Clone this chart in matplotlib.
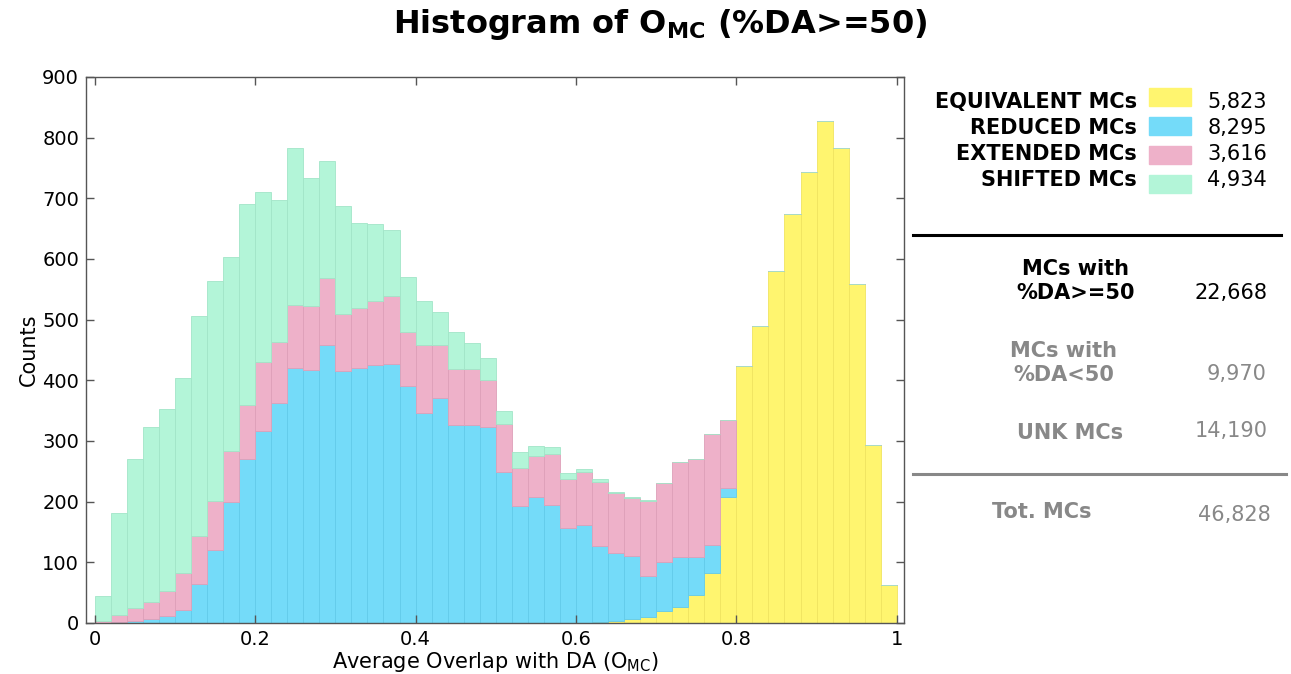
import numpy as np
import matplotlib
matplotlib.use('Agg')
import matplotlib.pyplot as plt

# counts per bin (50 bins from 0 to 1)
equivalent = [0, 0, 0, 0, 0, 0, 0, 0, 0, 0,
              0, 0, 0, 0, 0, 0, 0, 0, 0, 0,
              0, 0, 0, 0, 0, 0, 0, 0, 0, 0,
              0, 1, 3, 6, 10, 20, 26, 46, 83, 208,
              424, 490, 580, 674, 744, 828, 783, 559, 293, 62]
reduced = [0, 1, 4, 7, 12, 22, 65, 120, 199, 270,
           316, 362, 420, 417, 458, 416, 421, 426, 427, 390,
           346, 371, 326, 327, 323, 249, 192, 208, 195, 156,
           162, 126, 113, 104, 67, 80, 83, 62, 45, 15,
           0, 0, 0, 0, 0, 0, 0, 0, 0, 0]
extended = [3, 12, 20, 28, 40, 60, 79, 81, 84, 90,
            114, 101, 104, 105, 110, 94, 98, 104, 112, 89,
            112, 87, 92, 92, 78, 79, 64, 67, 84, 81,
            87, 105, 98, 96, 124, 130, 156, 162, 184, 111,
            0, 0, 0, 0, 0, 0, 0, 0, 0, 0]
shifted = [41, 168, 246, 288, 300, 322, 362, 363, 320, 331,
           281, 234, 259, 211, 193, 177, 140, 127, 108, 92,
           72, 55, 61, 42, 35, 21, 26, 16, 11, 10,
           4, 6, 2, 1, 2, 0, 0, 0, 0, 0,
           0, 0, 0, 0, 0, 0, 0, 0, 0, 0]

labels = ['EQUIVALENT MCs', 'REDUCED MCs', 'EXTENDED MCs', 'SHIFTED MCs']
totals = ['5,823', '8,295', '3,616', '4,934']
colors = ['#fff56f', '#74dbf9', '#eeb1c9', '#b3f5d8']
edges = ['#f0e460', '#62cbea', '#dea0b9', '#a2e5c8']

summary = [('MCs with\n%DA>=50', '22,668'), ('MCs with\n%DA<50', '9,970'),
           ('UNK MCs', '14,190'), ('Tot. MCs', '46,828')]

bin_edges = np.linspace(0, 1, 51)
left = bin_edges[:-1]
width = bin_edges[1] - bin_edges[0]

fig = plt.figure(figsize=(12.91, 6.74), dpi=100)
ax = fig.add_axes([0.0666, 0.0757, 0.6336, 0.8101])

bottom = np.zeros(50)
for series, c, ec in zip([equivalent, reduced, extended, shifted], colors, edges):
    vals = np.array(series, dtype=float)
    ax.bar(left, vals, width=width, bottom=bottom, align='edge',
           color=c, edgecolor=ec, linewidth=0.6)
    bottom += vals

ax.set_xlim(-0.011, 1.009)
ax.set_ylim(0, 900)
ax.set_xticks([0, 0.2, 0.4, 0.6, 0.8, 1])
ax.set_xticklabels(['0', '0.2', '0.4', '0.6', '0.8', '1'])
ax.set_yticks(range(0, 901, 100))
ax.tick_params(direction='in', length=6, width=1, color='#555555',
               labelsize=14, top=True, right=True, pad=5)
for s in ax.spines.values():
    s.set_color('#555555')
    s.set_linewidth(1)
ax.set_xlabel('Average Overlap with DA (O$_{\\mathrm{MC}}$)', fontsize=15, labelpad=1)
ax.set_ylabel('Counts', fontsize=15, labelpad=2)

fig.text(660 / 1291, 1 - 24 / 674, 'Histogram of O$_{\\mathbf{MC}}$ (%DA>=50)',
         fontsize=23, fontweight='bold', ha='center', va='center')


def fx(px):
    return px / 1291


def fy(py):
    return 1 - py / 674


# legend block
fs = 15
text_y = [102, 128, 154, 180]
patch_y = [97, 126, 155, 184]
for lab, tot, c, ty, py in zip(labels, totals, colors, text_y, patch_y):
    fig.text(fx(1137), fy(ty), lab, fontsize=fs, fontweight='bold',
             ha='right', va='center')
    fig.text(fx(1267), fy(ty), tot, fontsize=fs, ha='right', va='center')
    fig.patches.append(plt.Rectangle((fx(1149), fy(py + 9)), fx(42), 18 / 674,
                                     transform=fig.transFigure, color=c))

fig.add_artist(plt.Line2D([fx(913), fx(1281)], [fy(235), fy(235)],
                          color='black', linewidth=2.2, transform=fig.transFigure))
fig.add_artist(plt.Line2D([fx(913), fx(1286)], [fy(474), fy(474)],
                          color='#888888', linewidth=2.2, transform=fig.transFigure))

grey = '#888888'
fig.text(fx(1076), fy(281), summary[0][0], fontsize=fs, fontweight='bold',
         ha='center', va='center', multialignment='center', linespacing=1.2)
fig.text(fx(1267), fy(293), summary[0][1], fontsize=fs, ha='right', va='center')

fig.text(fx(1064), fy(363), summary[1][0], fontsize=fs, fontweight='bold', color=grey,
         ha='center', va='center', multialignment='center', linespacing=1.2)
fig.text(fx(1267), fy(374), summary[1][1], fontsize=fs, color=grey, ha='right', va='center')

fig.text(fx(1123), fy(433), summary[2][0], fontsize=fs, fontweight='bold', color=grey,
         ha='right', va='center')
fig.text(fx(1268), fy(431), summary[2][1], fontsize=fs, color=grey, ha='right', va='center')

fig.text(fx(1091), fy(512), summary[3][0], fontsize=fs, fontweight='bold', color=grey,
         ha='right', va='center')
fig.text(fx(1271), fy(515), summary[3][1], fontsize=fs, color=grey, ha='right', va='center')

fig.savefig('out.png', dpi=100)
